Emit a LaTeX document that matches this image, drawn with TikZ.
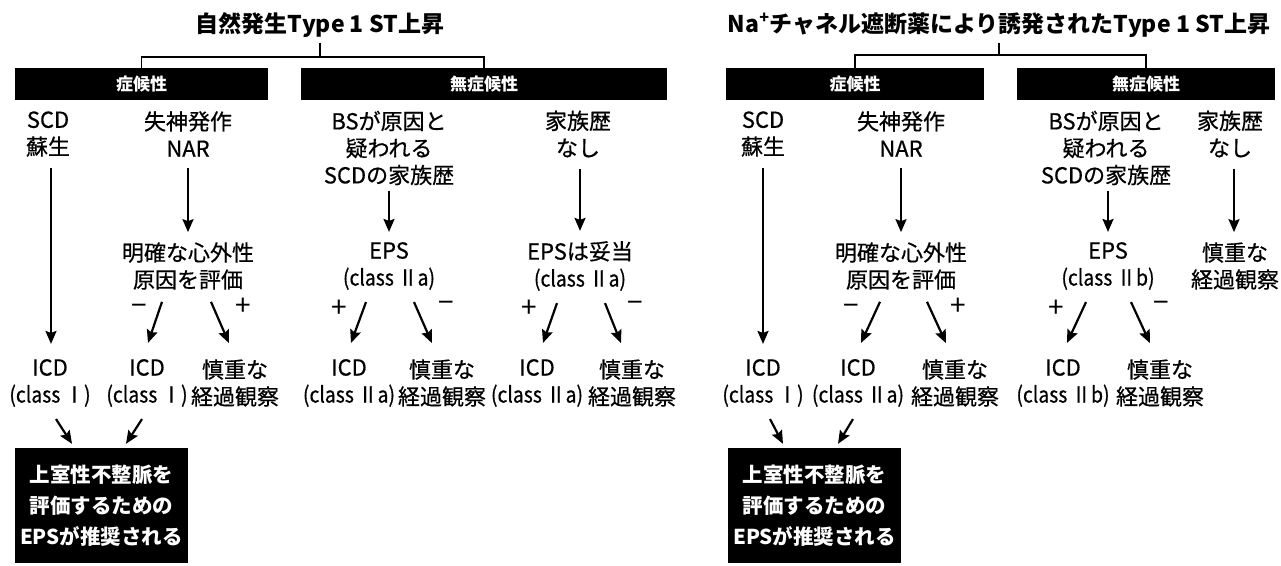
\documentclass[tikz,border=0pt]{standalone}
\usepackage{fontspec}
\usepackage{graphicx}
\setmainfont{Noto Sans CJK JP}
\usetikzlibrary{arrows.meta}
\newcommand\clsline[1]{\scalebox{0.88}[1]{(class #1)}}
\begin{document}
\begin{tikzpicture}[x=1pt,y=-1pt,
  txt/.style={align=center,inner sep=2pt,font=\fontsize{22}{27}\selectfont\addfontfeatures{FakeBold=0.6}},
  ttl/.style={inner sep=2pt,font=\bfseries\fontsize{23}{28}\selectfont},
  bar/.style={fill=black,text=white,inner sep=0pt,minimum height=32pt,font=\bfseries\fontsize{17}{20}\selectfont},
  note/.style={fill=black,text=white,align=center,inner sep=0pt,minimum width=173pt,minimum height=115pt,font=\bfseries\fontsize{20.5}{31}\selectfont},
  arr/.style={line width=2.2pt,-{Stealth[length=13pt,width=11pt,inset=2pt]}},
  ln/.style={line width=1.5pt},
  sgn/.style={inner sep=0pt,font=\fontsize{28}{28}\selectfont}]
\useasboundingbox (0,0) rectangle (1281,565);

% ---------- left half ----------
\node[ttl] (titleL) at (320,25) {自然発生Type 1 ST上昇};
\node[bar,minimum width=253pt] (barL1) at (141.5,84) {症候性};
\node[bar,minimum width=366pt] (barL2) at (484,84) {無症候性};
\coordinate (jL) at (titleL.south |- 0,57);
\draw[ln] ([yshift=-3pt]titleL.south) -- (jL);
\draw[ln] (barL1.north) |- (jL) -| (barL2.north);

\node[txt] (scdL) at (48,134) {SCD\\蘇生};
\node[txt] (synL) at (188,134) {失神発作\\NAR};
\node[txt] (bsL) at (389,148) {BSが原因と\\疑われる\\SCDの家族歴};
\node[txt] (famL) at (578,134) {家族歴\\なし};

\node[txt] (evalL) at (188,266) {明確な心外性\\原因を評価};
\node[txt] (epsL) at (389,266) {EPS\\\clsline{Ⅱa}};
\node[txt] (epsL2) at (580,266) {EPSは妥当\\\clsline{Ⅱa}};

\node[txt] (icdL1) at (50,383) {ICD\\\clsline{Ⅰ}};
\node[txt] (icdL2) at (147,383) {ICD\\\clsline{Ⅰ}};
\node[txt] (obsL1) at (235,383) {慎重な\\経過観察};
\node[txt] (icdL3) at (349,383) {ICD\\\clsline{Ⅱa}};
\node[txt] (obsL2) at (442,383) {慎重な\\経過観察};
\node[txt] (icdL4) at (537,383) {ICD\\\clsline{Ⅱa}};
\node[txt] (obsL3) at (632,383) {慎重な\\経過観察};

\node[note] (noteL) at (101.5,505.5) {上室性不整脈を\\評価するための\\EPSが推奨される};

\draw[arr] ([xshift=3pt,yshift=-9pt]scdL.south) -- ([xshift=1pt,yshift=13pt]icdL1.north);
\draw[arr] ([yshift=-9pt]synL.south) -- ([yshift=8pt]evalL.north);
\draw[arr] ([yshift=-4pt]bsL.south) -- ([yshift=8pt]epsL.north);
\draw[arr] ([xshift=2pt,yshift=-9pt]famL.south) -- ([yshift=8pt]epsL2.north);

\draw[arr] ([xshift=-26pt,yshift=-10pt]evalL.south) -- ([xshift=1pt,yshift=14pt]icdL2.north);
\draw[arr] ([xshift=23pt,yshift=-10pt]evalL.south) -- ([xshift=-6pt,yshift=14pt]obsL1.north);
\draw[arr] ([xshift=-23pt,yshift=-10pt]epsL.south) -- ([xshift=2pt,yshift=14pt]icdL3.north);
\draw[arr] ([xshift=25pt,yshift=-10pt]epsL.south) -- ([xshift=-10pt,yshift=14pt]obsL2.north);
\draw[arr] ([xshift=-23pt,yshift=-10pt]epsL2.south) -- ([xshift=6pt,yshift=14pt]icdL4.north);
\draw[arr] ([xshift=25pt,yshift=-10pt]epsL2.south) -- ([xshift=-11pt,yshift=14pt]obsL3.north);

\node[sgn] (sL1) at (139,310) {−};
\node[sgn] (sL2) at (243,307) {+};
\node[sgn] (sL3) at (339,309) {+};
\node[sgn] (sL4) at (446,307) {−};
\node[sgn] (sL5) at (529,309) {+};
\node[sgn] (sL6) at (635,307) {−};

\draw[arr] ([xshift=6pt,yshift=-10pt]icdL1.south) -- ([xshift=-29.5pt,yshift=4pt]noteL.north);
\draw[arr] ([xshift=-5pt,yshift=-10pt]icdL2.south) -- ([xshift=24.5pt,yshift=4pt]noteL.north);

% ---------- right half ----------
\node[ttl] (titleR) at (999,25) {Na\textsuperscript{+}チャネル遮断薬により誘発されたType 1 ST上昇};
\node[bar,minimum width=258pt] (barR1) at (855,84) {症候性};
\node[bar,minimum width=258pt] (barR2) at (1146,84) {無症候性};
\coordinate (jR) at (titleR.south |- 0,55);
\draw[ln] ([yshift=-3pt]titleR.south) -- (jR);
\draw[ln] (barR1.north) |- (jR) -| (barR2.north);

\node[txt] (scdR) at (763,134) {SCD\\蘇生};
\node[txt] (synR) at (901,134) {失神発作\\NAR};
\node[txt] (bsR) at (1106,148) {BSが原因と\\疑われる\\SCDの家族歴};
\node[txt] (famR) at (1230,134) {家族歴\\なし};

\node[txt] (evalR) at (901,266) {明確な心外性\\原因を評価};
\node[txt] (epsR) at (1108,266) {EPS\\\clsline{Ⅱb}};
\node[txt] (obsR0) at (1235,266) {慎重な\\経過観察};

\node[txt] (icdR1) at (763,383) {ICD\\\clsline{Ⅰ}};
\node[txt] (icdR2) at (858,383) {ICD\\\clsline{Ⅱa}};
\node[txt] (obsR1) at (955,383) {慎重な\\経過観察};
\node[txt] (icdR3) at (1063,383) {ICD\\\clsline{Ⅱb}};
\node[txt] (obsR2) at (1160,383) {慎重な\\経過観察};

\node[note] (noteR) at (814.5,505.5) {上室性不整脈を\\評価するための\\EPSが推奨される};

\draw[arr] ([yshift=-9pt]scdR.south) -- ([yshift=13pt]icdR1.north);
\draw[arr] ([yshift=-9pt]synR.south) -- ([yshift=8pt]evalR.north);
\draw[arr] ([xshift=2pt,yshift=-4pt]bsR.south) -- ([yshift=8pt]epsR.north);
\draw[arr] ([xshift=4pt,yshift=-9pt]famR.south) -- ([xshift=-1pt,yshift=8pt]obsR0.north);

\draw[arr] ([xshift=-21pt,yshift=-10pt]evalR.south) -- ([xshift=3pt,yshift=14pt]icdR2.north);
\draw[arr] ([xshift=26pt,yshift=-10pt]evalR.south) -- ([xshift=-9pt,yshift=14pt]obsR1.north);
\draw[arr] ([xshift=-22pt,yshift=-10pt]epsR.south) -- ([xshift=4pt,yshift=14pt]icdR3.north);
\draw[arr] ([xshift=23pt,yshift=-10pt]epsR.south) -- ([xshift=-10pt,yshift=14pt]obsR2.north);

\node[sgn] (sR1) at (851,310) {−};
\node[sgn] (sR2) at (958,307) {+};
\node[sgn] (sR3) at (1056,309) {+};
\node[sgn] (sR4) at (1161,307) {−};

\draw[arr] ([xshift=7pt,yshift=-10pt]icdR1.south) -- ([xshift=-31.5pt,yshift=4pt]noteR.north);
\draw[arr] ([xshift=-5pt,yshift=-10pt]icdR2.south) -- ([xshift=23.5pt,yshift=4pt]noteR.north);
\end{tikzpicture}
\end{document}
